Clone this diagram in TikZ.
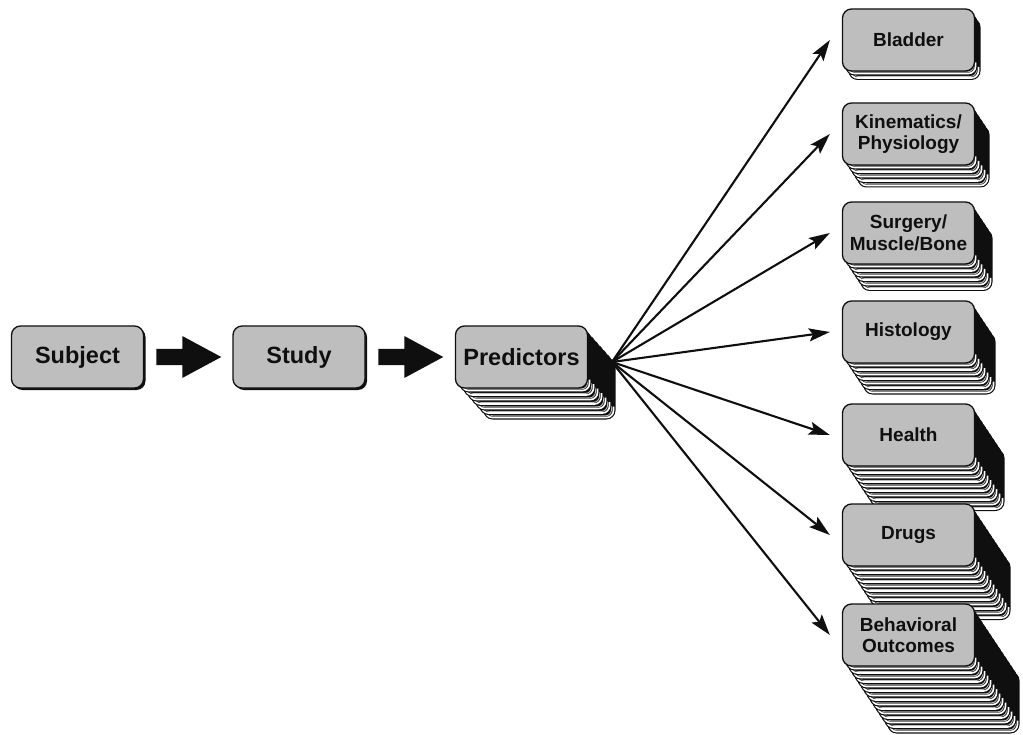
\documentclass[tikz,border=0pt]{standalone}
\usepackage{fontspec}
\setmainfont{Liberation Sans}
\usetikzlibrary{arrows.meta,calc}
\definecolor{boxgray}{RGB}{190,190,190}
\definecolor{ink}{RGB}{15,15,15}
\newcommand\layers[4]{% cx, cy, n, dx
  \foreach \i in {#3,...,1}{
    \pgfmathsetmacro\ox{#1+\i*#4}
    \pgfmathsetmacro\oy{#2+\i*4.5}
    \fill[ink,rounded corners=9pt] (\ox-66,\oy-31) rectangle (\ox+66,\oy+31);
    \draw[white,line width=1.6pt,rounded corners=7pt] (\ox-64,\oy+18) -- (\ox-64,\oy+29) -- (\ox+64,\oy+29) -- (\ox+64,\oy+18);
    \draw[boxgray,line width=0.9pt,rounded corners=6pt] (\ox-62,\oy+17) -- (\ox-62,\oy+27.4) -- (\ox+62,\oy+27.4) -- (\ox+62,\oy+17);
  }}
\tikzset{
  box/.style={draw=ink,line width=1.3pt,fill=boxgray,rounded corners=9pt,
    minimum width=132pt,minimum height=62pt,align=center,inner sep=2pt,text=ink},
  bigtxt/.style={font=\fontsize{23.5}{26}\selectfont\bfseries},
  smalltxt/.style={font=\fontsize{19}{21.5}\selectfont\bfseries},
  conn/.style={ink,line width=2.1pt,-{Stealth[length=21pt,width=13pt,inset=4pt]}},
}
\begin{document}
\begin{tikzpicture}[x=1pt,y=-1pt]
\useasboundingbox (0,0) rectangle (1023,735);
% left shadows
\fill[ink,rounded corners=9pt] (13.5,328) rectangle (145.5,390);
\fill[ink,rounded corners=9pt] (235,328) rectangle (367,390);
\node[box,bigtxt] (s1) at (77.5,357) {Subject};
\node[box,bigtxt] (s2) at (299,357) {Study};
\layers{521.5}{357}{7}{4}
\node[box,bigtxt] (p) at (521.5,357) {Predictors};
% block arrows
\begin{scope}[shift={($(s1.east)!0.5!(s2.west)$)}]
  \fill[ink] (-32,-8) -- (-6,-8) -- (-6,-21) -- (33,0) -- (-6,21) -- (-6,8) -- (-32,8) -- cycle;
\end{scope}
\begin{scope}[shift={($(s2.east)!0.5!(p.west)$)}]
  \fill[ink] (-32,-8) -- (-6,-8) -- (-6,-21) -- (33,0) -- (-6,21) -- (-6,8) -- (-32,8) -- cycle;
\end{scope}
% right stacks
\layers{908.5}{40}{2}{3}
\node[box,smalltxt] (b1) at (908.5,40) {Bladder};
\layers{908.5}{134}{5}{3}
\node[box,smalltxt] (b2) at (908.5,134) {Kinematics/\\Physiology};
\layers{908.5}{233}{6}{3}
\node[box,smalltxt] (b3) at (908.5,233) {Surgery/\\Muscle/Bone};
\layers{908.5}{332}{7}{3}
\node[box,smalltxt] (b4) at (908.5,332) {Histology};
\layers{908.5}{435}{10}{3}
\node[box,smalltxt] (b5) at (908.5,435) {Health};
\layers{908.5}{535}{12}{3}
\node[box,smalltxt] (b6) at (908.5,535) {Drugs};
\layers{908.5}{635}{15}{3}
\node[box,smalltxt] (b7) at (908.5,635) {Behavioral\\Outcomes};
% fan arrows
\coordinate (hub) at (612,362);
\foreach \b in {b1,b2,b3,b4,b5,b6,b7}
  \draw[conn] (hub) -- ([xshift=-12pt]\b.west);
\end{tikzpicture}
\end{document}
